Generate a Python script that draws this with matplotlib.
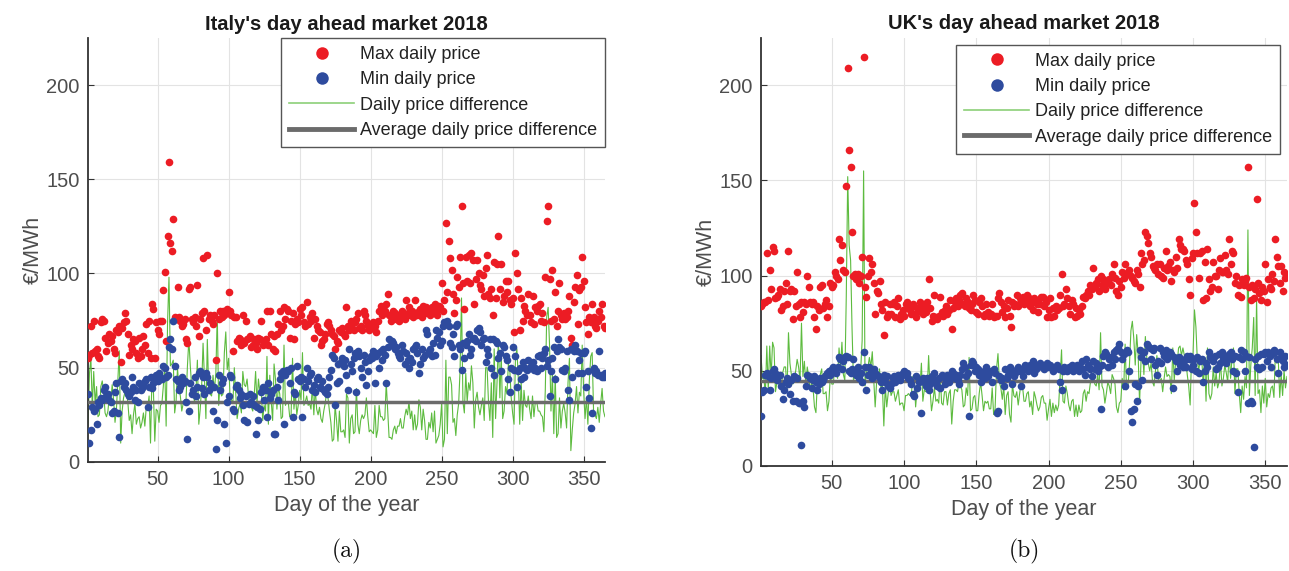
import numpy as np
import matplotlib
matplotlib.use('Agg')
import matplotlib.pyplot as plt
from matplotlib.lines import Line2D

plt.rcParams['font.family'] = ['Liberation Sans', 'DejaVu Sans']
plt.rcParams['mathtext.fontset'] = 'cm'

# ---- data (EUR/MWh, day 1..365) ----
days = np.arange(1, 366)

it_max = [
    55, 57, 72, 58, 75, 59, 60, 56, 55, 74, 76, 75, 66, 59, 63, 68, 64, 67, 60, 58,
    70, 69, 72, 53, 71, 74, 79, 75, 68, 57, 62, 60, 65, 64, 58, 55, 66, 56, 60, 67,
    62, 73, 58, 75, 55, 84, 81, 55, 74, 70,
    68, 75, 75, 91, 101, 64, 120, 159, 116, 112,
    129, 77, 76, 93, 77, 75, 72, 73, 76, 65,
    63, 92, 93, 76, 74, 77, 72, 94, 67, 76,
    79, 108, 80, 70, 110, 76, 78, 75, 73, 78,
    54, 100, 76, 80, 77, 80, 78, 79, 81, 90,
    80, 78, 59, 77, 77, 64, 66, 65, 62, 78,
    63, 75, 65, 66, 67, 61, 62, 65, 63, 60,
    66, 65, 75, 62, 63, 65, 80, 62, 80, 68,
    60, 67, 59, 68, 73, 80, 70, 72, 82, 76,
    81, 80, 66, 75, 79, 65, 73, 76, 74, 81,
    78, 82, 74, 72, 85, 73, 77, 75, 79, 66,
    76, 72, 70, 69, 62, 64, 65, 68, 73, 74,
    72, 70, 68, 67, 60, 64, 63, 70, 69, 71,
    68, 67, 82, 72, 70, 75, 73, 70, 74, 76,
    79, 71, 72, 70, 80, 78, 75, 72, 70, 73,
    71, 74, 72, 69, 75, 80, 83, 78, 82, 80,
    84, 89, 78, 75, 76, 80, 79, 76, 77, 75,
    78, 80, 77, 76, 86, 79, 82, 78, 80, 77,
    86, 79, 78, 80, 81, 77, 83, 79, 82, 80,
    80, 78, 82, 79, 84, 80, 78, 83, 82, 95,
    80, 86, 127, 90, 117, 108, 102, 89, 79, 86,
    98, 93, 109, 136, 95, 81, 109, 96, 110, 95,
    111, 107, 84, 97, 107, 100, 94, 92, 99, 88,
    103, 110, 89, 87, 92, 78, 106, 87, 105, 120,
    92, 105, 85, 88, 96, 90, 96, 86, 84, 87,
    69, 111, 100, 92, 70, 87, 75, 83, 80, 78,
    89, 78, 74, 88, 73, 82, 80, 83, 84, 75,
    79, 74, 98, 128, 136, 97, 75, 102, 76, 90,
    72, 80, 95, 78, 76, 79, 76, 77, 80, 88,
    66, 62, 85, 93, 99, 73, 91, 93, 109, 96,
    82, 74, 68, 77, 74, 84, 77, 72, 71, 75,
    80, 77, 84, 72, 71,
]

it_min = [
    36, 10, 17, 29, 27, 28, 20, 32, 30, 34, 33, 38, 40, 35, 36, 33, 32, 26, 27, 37,
    42, 26, 13, 43, 44, 40, 42, 38, 36, 35, 37, 45, 40, 33, 38, 32, 42, 38, 39, 41,
    43, 44, 29, 40, 45, 39, 42, 44, 46, 43,
    47, 45, 44, 51, 50, 45, 46, 61, 65, 60,
    75, 51, 44, 43, 38, 40, 45, 42, 43, 32,
    12, 27, 42, 36, 38, 45, 35, 40, 47, 48,
    39, 45, 36, 47, 45, 38, 42, 40, 27, 40,
    7, 22, 46, 38, 42, 44, 20, 10, 32, 35,
    46, 45, 28, 27, 40, 41, 38, 34, 36, 30, 22, 35, 21, 31, 36, 32, 35, 30, 15, 29,
    22, 28, 37, 40, 33, 38, 24, 42, 34, 36, 38, 15, 15, 40, 33, 44, 47, 48, 20, 46,
    49, 48, 42, 50, 24, 37, 36, 51, 44, 43, 45, 24, 44, 40, 50, 43, 46, 47, 38, 41,
    37, 44, 45, 40, 39, 43, 38, 37, 36, 40, 45, 49, 57, 55, 30, 42, 52, 43, 53, 55,
    51, 54, 46, 38, 60, 52, 48, 55, 58, 37, 59, 56, 50, 45, 57, 53, 41, 48, 54, 56,
    55, 59, 42, 56, 58, 50, 59, 54, 60, 57, 42, 61, 65, 62, 64, 63, 60, 61, 58, 56,
    55, 62, 59, 52, 58, 54, 50, 55, 53, 60, 61, 62, 58, 47, 52, 60, 55, 57, 70, 68,
    59, 60, 56, 63, 57, 70, 66, 69, 62, 64, 72, 74, 73, 75, 72, 63, 61, 68, 56, 72,
    73, 62, 60, 49, 63, 55, 62, 64, 68, 57, 60, 65, 66, 64, 70, 71, 69, 62, 65, 66,
    53, 60, 57, 65, 50, 65, 46, 64, 63, 55, 58, 48, 62, 61, 56, 54, 44, 37, 50, 61,
    49, 56, 40, 48, 50, 44, 53, 45, 50, 49, 54, 50, 51, 53, 49, 50, 48, 56, 57, 50,
    55, 58, 60, 51, 54, 35, 48, 55, 61, 44, 59, 65, 61, 60, 49, 48, 50, 59, 38, 33,
    60, 45, 59, 62, 59, 47, 54, 58, 47, 58, 59, 40, 48, 34, 18, 26, 50, 47, 48, 46,
    59, 46, 45, 45, 47,
]

uk_max = [
    84, 85, 86, 86, 112, 87, 103, 93, 115, 113,
    88, 89, 90, 93, 82, 84, 92, 96, 85, 113,
    92, 93, 77, 92, 84, 102, 85, 78, 86, 81,
    86, 85, 100, 94, 86, 85, 86, 78, 72, 84,
    82, 94, 95, 83, 85, 87, 78, 84, 96, 94,
    95, 102, 100, 98, 119, 108, 116, 103, 102, 147,
    209, 166, 157, 123, 100, 101, 98, 101, 96, 100,
    110, 215, 94, 89, 100, 109, 102, 106, 96, 80,
    92, 91, 97, 85, 82, 69, 86, 78, 80, 85,
    80, 85, 86, 78, 84, 88, 77, 80, 82, 79,
    85, 86, 84, 82, 80, 85, 84, 78, 81, 83,
    86, 82, 80, 84, 81, 86, 98, 83, 76, 79,
    90, 78, 77, 79, 89, 81, 79, 82, 84, 80,
    82, 87, 72, 83, 86, 88, 84, 87, 90, 91,
    85, 84, 88, 86, 83, 82, 85, 90, 87, 81,
    80, 86, 88, 84, 79, 80, 85, 81, 79, 80,
    85, 78, 79, 79, 88, 91, 86, 81, 84, 78,
    83, 87, 79, 73, 86, 84, 85, 90, 84, 88,
    86, 89, 85, 87, 90, 89, 84, 86, 82, 88,
    87, 85, 81, 85, 89, 89, 84, 86, 78, 82,
    88, 78, 83, 79, 84, 82, 83, 90, 101, 84,
    85, 93, 88, 84, 80, 87, 85, 78, 83, 79,
    82, 80, 84, 89, 88, 90, 92, 90, 95, 93,
    104, 94, 96, 98, 92, 100, 95, 98, 93, 97,
    96, 98, 95, 101, 106, 99, 92, 90, 97, 94,
    102, 99, 106, 101, 102, 103, 100, 99, 97, 96,
    103, 101, 94, 112, 106, 108, 123, 121, 117, 112,
    110, 105, 104, 103, 106, 101, 106, 100, 99, 104,
    113, 103, 105, 107, 97, 103, 102, 110, 104, 119,
    116, 114, 114, 113, 108, 106, 98, 90, 109, 112,
    138, 123, 112, 99, 112, 113, 87, 107, 88, 114,
    98, 92, 94, 107, 100, 100, 93, 103, 109, 102,
    102, 111, 103, 101, 119, 106, 113, 112, 96, 100,
    90, 95, 89, 98, 95, 97, 99, 157, 94, 87,
    95, 88, 93, 140, 96, 91, 87, 94, 92, 106,
    86, 98, 94, 93, 101, 97, 119, 110, 105, 96,
    105, 92, 102, 99, 100,
]

uk_min = [
    26, 39, 40, 48, 49, 47, 40, 46, 50, 51,
    49, 45, 47, 48, 42, 35, 40, 44, 46, 43,
    38, 45, 34, 47, 34, 46, 33, 33, 11, 34,
    31, 42, 48, 47, 46, 41, 45, 47, 44, 40,
    43, 46, 44, 45, 47, 48, 49, 50, 48, 51,
    52, 51, 49, 52, 57, 56, 51, 55, 57, 58,
    57, 50, 49, 51, 56, 50, 48, 52, 46, 49,
    44, 60, 52, 40, 48, 52, 50, 46, 51, 49,
    48, 47, 46, 44, 40, 48, 44, 47, 42, 41,
    43, 46, 47, 44, 47, 48, 45, 47, 49, 50,
    48, 49, 46, 45, 43, 38, 37, 47, 41, 44,
    45, 28, 46, 44, 42, 46, 40, 43, 47, 45,
    49, 44, 42, 46, 41, 48, 47, 43, 45, 48,
    44, 47, 50, 49, 46, 48, 45, 43, 48, 51,
    54, 52, 47, 49, 26, 53, 55, 54, 50, 52,
    51, 48, 44, 47, 50, 46, 52, 47, 49, 50,
    44, 51, 49, 28, 29, 47, 45, 46, 42, 51,
    46, 48, 52, 50, 43, 47, 49, 51, 52, 50,
    42, 47, 51, 53, 52, 50, 53, 52, 55, 49,
    51, 53, 52, 54, 53, 52, 51, 53, 54, 52,
    53, 52, 50, 51, 52, 53, 51, 44, 40, 50,
    52, 51, 50, 52, 51, 53, 50, 52, 51, 53,
    50, 52, 55, 51, 48, 56, 53, 52, 51, 47,
    55, 51, 54, 50, 52, 30, 53, 58, 60, 59,
    52, 56, 57, 53, 60, 56, 61, 62, 64, 60,
    56, 59, 42, 61, 60, 50, 29, 23, 30, 43,
    34, 42, 61, 57, 45, 60, 55, 64, 63, 62,
    56, 61, 62, 53, 48, 55, 62, 54, 60, 58,
    61, 56, 57, 60, 59, 41, 57, 55, 50, 57,
    53, 56, 52, 55, 52, 58, 56, 58, 51, 53,
    56, 50, 57, 49, 55, 56, 44, 50, 54, 52,
    60, 57, 56, 55, 58, 51, 52, 59, 54, 60,
    56, 58, 54, 57, 59, 60, 56, 50, 58, 49,
    39, 57, 61, 56, 60, 50, 58, 33, 57, 34,
    33, 10, 56, 52, 58, 51, 59, 52, 59, 60,
    55, 60, 58, 52, 59, 61, 60, 56, 49, 60,
    57, 55, 52, 58, 53,
]

titles = ["Italy's day ahead market 2018", "UK's day ahead market 2018"]
captions = ['(a)', '(b)']
labels = ['Max daily price', 'Min daily price', 'Daily price difference',
          'Average daily price difference']

RED = '#ec1c24'
BLUE = '#2e4b9e'
GREEN = '#5dbb3f'
GREY = '#6b6b6b'
TXT = '#4d4d4d'

fig = plt.figure(figsize=(12.89, 5.71), dpi=100)
ax_a = fig.add_axes([0.0683, 0.191, 0.401, 0.7426])
ax_b = fig.add_axes([0.5904, 0.184, 0.408, 0.750])

panels = [(ax_a, it_max, it_min, (1.0, 1.0)),
          (ax_b, uk_max, uk_min, (0.987, 0.984))]

for i, (ax, pmax, pmin, leg_anchor) in enumerate(panels):
    pmax = np.array(pmax, dtype=float)
    pmin = np.array(pmin, dtype=float)
    diff = pmax - pmin
    avg = diff.mean()

    ax.plot(days, diff, color=GREEN, lw=0.8, zorder=2)
    ax.axhline(avg, color=GREY, lw=2.5, zorder=3)
    ax.plot(days, pmax, 'o', color=RED, ms=5.5, mec='none', zorder=4)
    ax.plot(days, pmin, 'o', color=BLUE, ms=5.5, mec='none', zorder=4)

    ax.set_xlim(1, 365)
    ax.set_ylim(0, 225)
    ax.set_xticks([50, 100, 150, 200, 250, 300, 350])
    ax.set_yticks([0, 50, 100, 150, 200])
    ax.grid(True, color='#e3e3e3', lw=0.8)
    ax.set_axisbelow(True)
    for s in ['top', 'right']:
        ax.spines[s].set_visible(False)
    for s in ['left', 'bottom']:
        ax.spines[s].set_color('#333333')
        ax.spines[s].set_linewidth(1.3)
    ax.tick_params(direction='in', length=4, colors='#333333', labelcolor=TXT,
                   labelsize=14.5, pad=6)

    ax.set_title(titles[i], fontsize=14.5, fontweight='bold', color='#1a1a1a', pad=6)
    ax.set_xlabel('Day of the year', fontsize=15.5, color=TXT, labelpad=4)
    ax.set_ylabel('€/MWh', fontsize=15.5, color=TXT, labelpad=2)

    handles = [
        Line2D([], [], ls='none', marker='o', color=RED, ms=9, mec='none'),
        Line2D([], [], ls='none', marker='o', color=BLUE, ms=9, mec='none'),
        Line2D([], [], color=GREEN, lw=1.2, alpha=0.7),
        Line2D([], [], color=GREY, lw=3.5),
    ]
    leg = ax.legend(handles, labels, loc='upper right', bbox_to_anchor=leg_anchor,
                    borderaxespad=0, fontsize=13, frameon=True, fancybox=False,
                    edgecolor='#555555', framealpha=1, handlelength=3.6,
                    labelspacing=0.46, borderpad=0.45, handletextpad=0.3)
    leg.get_frame().set_linewidth(1.0)
    for t in leg.get_texts():
        t.set_color('#222222')

    pos = ax.get_position()
    fig.text(pos.x0 + pos.width / 2, 0.035, captions[i], ha='center', va='center',
             fontsize=17, family='cmr10', color='#111111')

fig.savefig('out.png', dpi=100)
